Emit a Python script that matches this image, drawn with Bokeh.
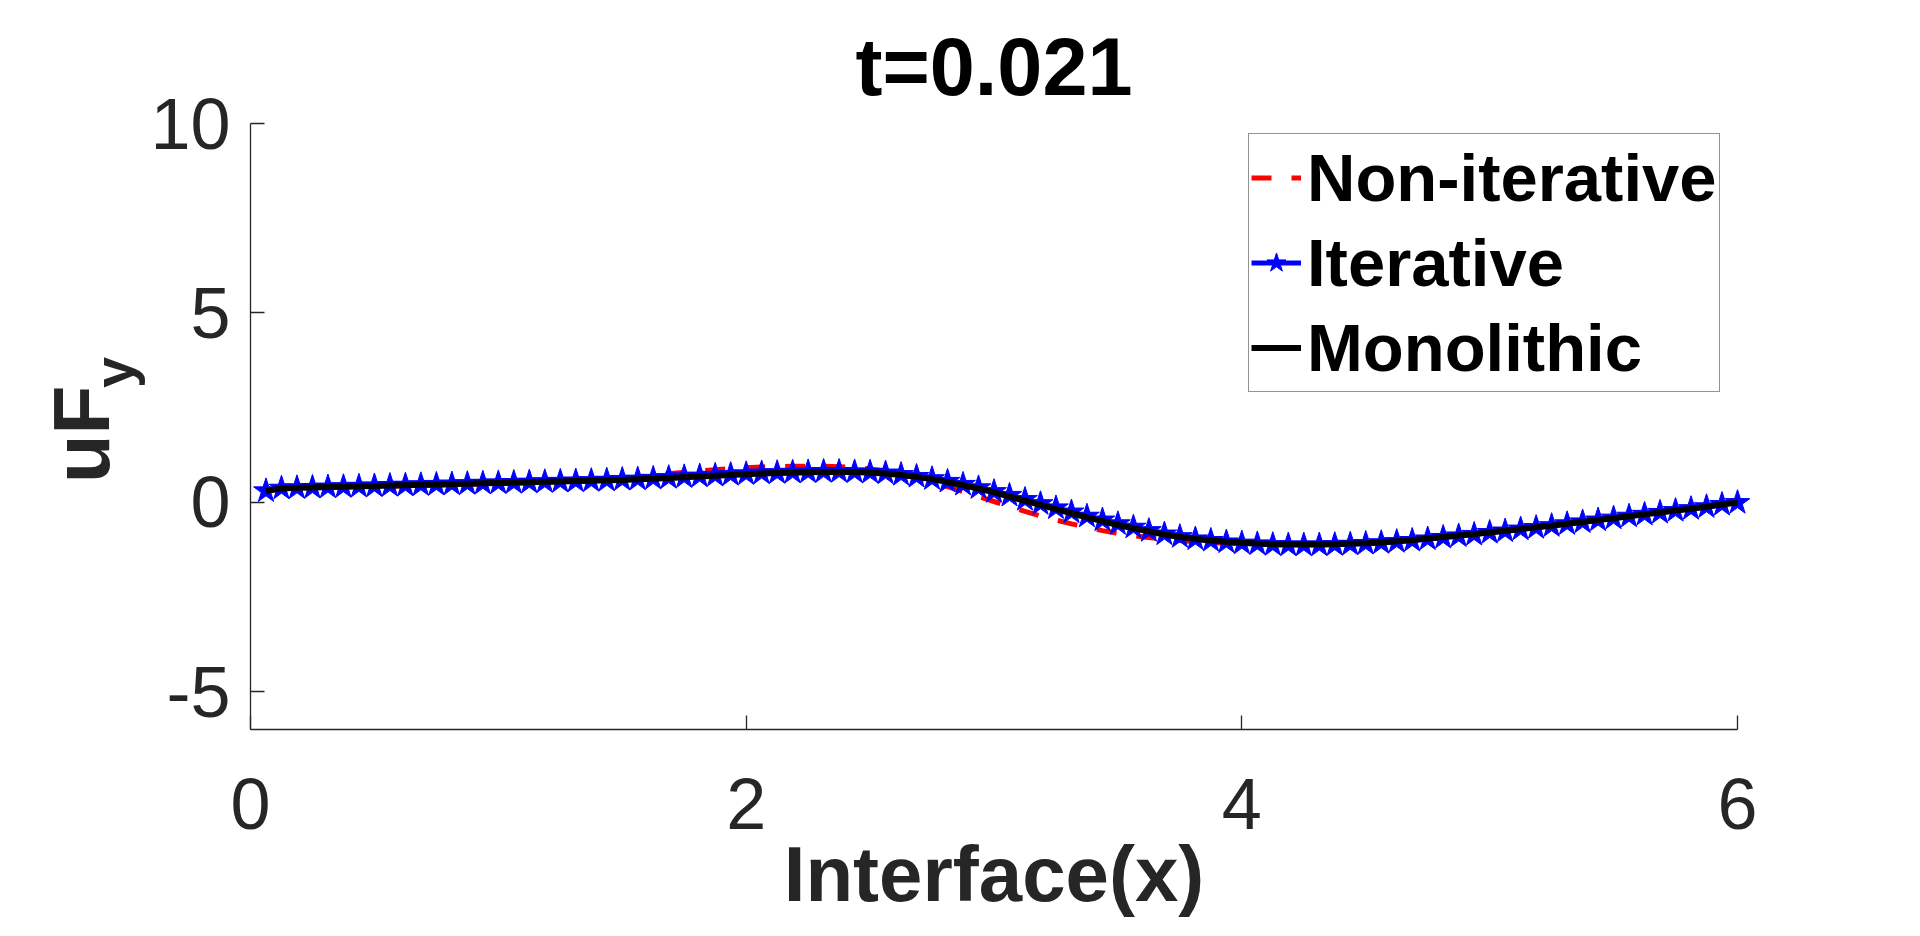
from bokeh.plotting import figure
from bokeh.models import Range1d, FixedTicker, Label, Legend, LegendItem, LinearAxis
from bokeh.embed import file_html
from bokeh.resources import INLINE

# ---------------- data ----------------
x_vals = [0.0625, 0.125, 0.1875, 0.25, 0.3125, 0.375, 0.4375, 0.5, 0.5625, 0.625,
          0.6875, 0.75, 0.8125, 0.875, 0.9375, 1.0, 1.0625, 1.125, 1.1875, 1.25,
          1.3125, 1.375, 1.4375, 1.5, 1.5625, 1.625, 1.6875, 1.75, 1.8125, 1.875,
          1.9375, 2.0, 2.0625, 2.125, 2.1875, 2.25, 2.3125, 2.375, 2.4375, 2.5,
          2.5625, 2.625, 2.6875, 2.75, 2.8125, 2.875, 2.9375, 3.0, 3.0625, 3.125,
          3.1875, 3.25, 3.3125, 3.375, 3.4375, 3.5, 3.5625, 3.625, 3.6875, 3.75,
          3.8125, 3.875, 3.9375, 4.0, 4.0625, 4.125, 4.1875, 4.25, 4.3125, 4.375,
          4.4375, 4.5, 4.5625, 4.625, 4.6875, 4.75, 4.8125, 4.875, 4.9375, 5.0,
          5.0625, 5.125, 5.1875, 5.25, 5.3125, 5.375, 5.4375, 5.5, 5.5625, 5.625,
          5.6875, 5.75, 5.8125, 5.875, 5.9375, 6.0]

non_iterative = [0.30, 0.35, 0.37, 0.38, 0.39, 0.40, 0.41, 0.42, 0.42, 0.43,
                 0.44, 0.45, 0.46, 0.47, 0.48, 0.49, 0.50, 0.51, 0.53, 0.54,
                 0.56, 0.58, 0.60, 0.62, 0.66, 0.70, 0.75, 0.79, 0.83, 0.86,
                 0.89, 0.91, 0.93, 0.94, 0.95, 0.95, 0.95, 0.94, 0.92, 0.88,
                 0.82, 0.74, 0.64, 0.53, 0.41, 0.28, 0.15, 0.02, -0.11, -0.24,
                 -0.36, -0.47, -0.57, -0.66, -0.75, -0.82, -0.88, -0.93, -0.97, -1.01,
                 -1.04, -1.06, -1.08, -1.09, -1.10, -1.11, -1.11, -1.11, -1.10, -1.09,
                 -1.07, -1.05, -1.03, -1.00, -0.97, -0.93, -0.89, -0.85, -0.81, -0.77,
                 -0.73, -0.68, -0.64, -0.59, -0.55, -0.50, -0.45, -0.40, -0.35, -0.30,
                 -0.25, -0.20, -0.15, -0.10, -0.05, 0.00]

iterative = [0.30, 0.37, 0.38, 0.39, 0.40, 0.41, 0.42, 0.43, 0.44, 0.45,
             0.46, 0.47, 0.48, 0.49, 0.50, 0.51, 0.52, 0.53, 0.54, 0.55,
             0.56, 0.57, 0.58, 0.60, 0.61, 0.63, 0.65, 0.67, 0.69, 0.71,
             0.73, 0.75, 0.77, 0.78, 0.79, 0.80, 0.81, 0.81, 0.80, 0.79,
             0.77, 0.73, 0.68, 0.62, 0.55, 0.47, 0.38, 0.28, 0.18, 0.07,
             -0.04, -0.15, -0.26, -0.37, -0.47, -0.57, -0.66, -0.75, -0.84, -0.91,
             -0.97, -1.01, -1.05, -1.08, -1.10, -1.12, -1.13, -1.13, -1.13, -1.12,
             -1.11, -1.09, -1.07, -1.04, -1.01, -0.97, -0.93, -0.89, -0.85, -0.80,
             -0.76, -0.71, -0.67, -0.62, -0.57, -0.52, -0.47, -0.42, -0.37, -0.32,
             -0.27, -0.22, -0.17, -0.12, -0.06, -0.01]

monolithic = [0.30, 0.36, 0.38, 0.39, 0.40, 0.41, 0.42, 0.43, 0.44, 0.45,
              0.46, 0.47, 0.48, 0.49, 0.50, 0.51, 0.52, 0.53, 0.54, 0.55,
              0.56, 0.57, 0.58, 0.59, 0.61, 0.62, 0.64, 0.66, 0.68, 0.70,
              0.72, 0.74, 0.76, 0.77, 0.78, 0.79, 0.80, 0.80, 0.80, 0.78,
              0.76, 0.72, 0.67, 0.61, 0.53, 0.45, 0.36, 0.26, 0.15, 0.04,
              -0.07, -0.18, -0.29, -0.40, -0.50, -0.60, -0.69, -0.77, -0.85, -0.92,
              -0.97, -1.01, -1.04, -1.07, -1.09, -1.10, -1.11, -1.11, -1.11, -1.10,
              -1.09, -1.08, -1.06, -1.03, -1.00, -0.96, -0.92, -0.88, -0.84, -0.80,
              -0.75, -0.71, -0.66, -0.62, -0.57, -0.52, -0.47, -0.42, -0.37, -0.32,
              -0.27, -0.22, -0.17, -0.12, -0.06, -0.01]

x_ticks = [0, 2, 4, 6]
y_ticks = [-5, 0, 5, 10]
y_tick_labels = {-5: "-5", 0: "0", 5: "5", 10: "10"}
series_names = ["Non-iterative", "Iterative", "Monolithic"]
title_text = "t=0.021"
x_label = "Interface(x)"
y_label_main = "uF"
y_label_sub = "y"

FONT = "Liberation Sans"
AXC = "#262626"

# The frame spans the whole canvas; data box (0..6, -6..10) sits at
# canvas px x 250..1737, y 123..729.
W, H = 1904, 920
L, R, T, B = 250, 1737, 123, 729
xs = (R - L) / 6.0
ys = (B - T) / 16.0
x0 = 0 - L / xs
x1 = 6 + (W - R) / xs
y1 = 10 + T / ys
y0 = -6 - (H - B) / ys

p = figure(width=W, height=H, output_backend="svg", toolbar_location=None,
           x_range=Range1d(x0, x1), y_range=Range1d(y0, y1),
           x_axis_location=None, y_axis_location=None,
           min_border=0)
p.outline_line_color = None
p.xgrid.visible = False
p.ygrid.visible = False
p.background_fill_color = "white"
p.border_fill_color = "white"

xaxis = LinearAxis(fixed_location=-6, bounds=(0, 6))
yaxis = LinearAxis(fixed_location=0, bounds=(-6, 10))
for ax, ticks in ((xaxis, x_ticks), (yaxis, y_ticks)):
    ax.ticker = FixedTicker(ticks=ticks)
    ax.axis_line_color = AXC
    ax.axis_line_width = 1.3
    ax.major_tick_line_color = AXC
    ax.major_tick_line_width = 1.3
    ax.major_tick_in = 14
    ax.major_tick_out = 0
    ax.minor_tick_line_color = None
    ax.major_label_text_font = FONT
    ax.major_label_text_font_size = "72px"
    ax.major_label_text_color = AXC
xaxis.major_label_standoff = 49
yaxis.major_label_standoff = 20
yaxis.major_label_overrides = y_tick_labels
p.add_layout(xaxis, "below")
p.add_layout(yaxis, "left")

r_non = p.line(x_vals, non_iterative, line_color="#FF0000", line_width=5,
               line_dash="20 20")
r_it_line = p.line(x_vals, iterative, line_color="#0000FF", line_width=5)
r_it_pts = p.scatter(x_vals, iterative, marker="star", size=26,
                     fill_color="#0000FF", line_color="#0000FF", line_width=1)
r_mono = p.line(x_vals, monolithic, line_color="#000000", line_width=6)

legend = Legend(items=[
    LegendItem(label=series_names[0], renderers=[r_non]),
    LegendItem(label=series_names[1], renderers=[r_it_line, r_it_pts]),
    LegendItem(label=series_names[2], renderers=[r_mono]),
])
legend.location = (1248, H - 392)
legend.padding = 2
legend.spacing = 2
legend.glyph_width = 50
legend.glyph_height = 83
legend.label_height = 83
legend.label_standoff = 6
legend.label_text_font = FONT
legend.label_text_font_size = "67px"
legend.label_text_font_style = "bold"
legend.label_text_color = "#000000"
legend.label_text_baseline = "middle"
legend.border_line_color = AXC
legend.border_line_width = 1.3
legend.background_fill_color = "white"
legend.background_fill_alpha = 1.0
p.add_layout(legend)

def y_of(py):
    return 10 - (py - T) / ys

def x_of(px):
    return (px - L) / xs

# empirical shift of the alphabetic baseline (px per px of font size)
SH = 29.0 / 80.0

p.add_layout(Label(x=3, y=y_of(96 - 81 * SH), text=title_text, text_align="center",
                   text_baseline="alphabetic", text_font=FONT,
                   text_font_size="81px", text_font_style="bold",
                   text_color="#000000"))
p.add_layout(Label(x=3, y=y_of(902 - 78 * SH), text=x_label, text_align="center",
                   text_baseline="alphabetic", text_font=FONT,
                   text_font_size="78px", text_font_style="bold",
                   text_color=AXC))
p.add_layout(Label(x=x_of(110 - 80 * SH), y=y_of(434), text=y_label_main, angle=1.5708,
                   text_align="center", text_baseline="alphabetic",
                   text_font=FONT, text_font_size="80px",
                   text_font_style="bold", text_color=AXC))
p.add_layout(Label(x=x_of(133 - 56 * SH), y=y_of(372), text=y_label_sub, angle=1.5708,
                   text_align="center", text_baseline="alphabetic",
                   text_font=FONT, text_font_size="56px",
                   text_font_style="bold", text_color=AXC))

open("out.html", "w").write(file_html(p, INLINE))
